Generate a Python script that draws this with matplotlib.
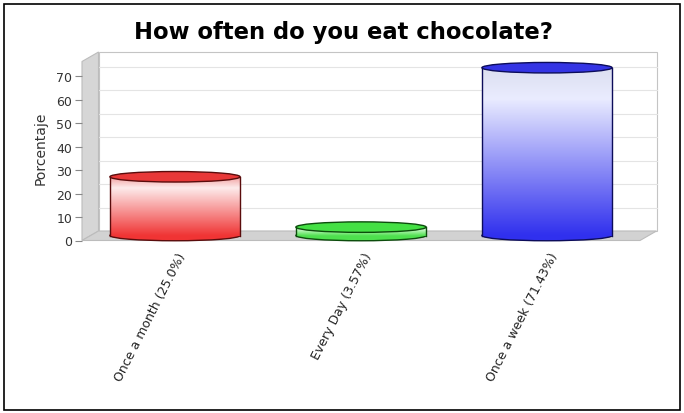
import numpy as np
import matplotlib.pyplot as plt
from matplotlib.patches import Ellipse, Polygon, Rectangle
from matplotlib.colors import LinearSegmentedColormap
import matplotlib.transforms as mtransforms

# chart data
categories = ['Once a month (25.0%)', 'Every Day (3.57%)', 'Once a week (71.43%)']
values = [25.0, 3.57, 71.43]
yticks = [0, 10, 20, 30, 40, 50, 60, 70]
title = 'How often do you eat chocolate?'
ylabel = 'Porcentaje'

# colours: body gradient (top, upper light band, bottom), cap, outline
body_colors = [
    ['#f2a4a4', '#fdebeb', '#f03434'],
    ['#a8f0a8', '#d8fcd8', '#4ee04e'],
    ['#dcdff0', '#eaecff', '#3030ee'],
]
cap_colors = ['#e83838', '#44e044', '#3434e4']
edge_colors = ['#5a0c0c', '#0c4c0c', '#0c0c5a']

W, H = 684, 414
fig = plt.figure(figsize=(W / 100, H / 100), dpi=100)
fig.patch.set_facecolor('white')

# front plane of the 3d plot, in pixels
left_px, right_px, top_px, bottom_px = 82, 640, 62.5, 241.5
ax = fig.add_axes([left_px / W, 1 - bottom_px / H,
                   (right_px - left_px) / W, (bottom_px - top_px) / H])
ax.patch.set_visible(False)
for s in ax.spines.values():
    s.set_visible(False)

ymax = 76.2
x0, x1 = -0.5, 2.5
sx = (right_px - left_px) / (x1 - x0)   # px per category unit
sy = (bottom_px - top_px) / ymax        # px per value unit

# 3d depth, pixels -> data units
dx = 16.5 / sx
dy = 9.5 / sy

# back wall
ax.add_patch(Rectangle((x0 + dx, dy), x1 - x0, ymax, facecolor='white',
                       edgecolor='#c4c4c4', lw=0.8, clip_on=False, zorder=0))
for t in yticks[1:]:
    ax.plot([x0 + dx, x1 + dx], [t + dy, t + dy], color='#e4e4e4', lw=0.8,
            clip_on=False, zorder=0.5)
# left wall
ax.add_patch(Polygon([(x0, 0), (x0 + dx, dy), (x0 + dx, ymax + dy), (x0, ymax)],
                     closed=True, facecolor='#d6d6d6', edgecolor='#bcbcbc',
                     lw=0.8, clip_on=False, zorder=0.6))
# floor
ax.add_patch(Polygon([(x0, 0), (x1, 0), (x1 + dx, dy), (x0 + dx, dy)],
                     closed=True, facecolor='#d2d2d2', edgecolor='#bcbcbc',
                     lw=0.8, clip_on=False, zorder=0.6))

# cylinders
bw = 0.70
eh = 10.5 / sy
lift = 5.0 / sy
for i, v in enumerate(values):
    cmap = LinearSegmentedColormap.from_list(
        'c%d' % i, [(0, body_colors[i][2]), (0.82, body_colors[i][1]),
                    (1, body_colors[i][0])])
    grad = cmap(np.linspace(0, 1, 200))[:, None, :3]
    ax.add_patch(Ellipse((i, lift), bw, eh, facecolor=body_colors[i][2],
                         edgecolor=edge_colors[i], lw=1.0, zorder=2,
                         clip_on=False))
    ax.imshow(grad, extent=(i - bw / 2, i + bw / 2, lift, v + lift),
              origin='lower', aspect='auto', zorder=3, interpolation='bilinear',
              clip_on=False)
    ax.plot([i - bw / 2, i - bw / 2], [lift, v + lift], color=edge_colors[i],
            lw=1.0, zorder=4, clip_on=False)
    ax.plot([i + bw / 2, i + bw / 2], [lift, v + lift], color=edge_colors[i],
            lw=1.0, zorder=4, clip_on=False)
    ax.add_patch(Ellipse((i, v + lift), bw, eh, facecolor=cap_colors[i],
                         edgecolor=edge_colors[i], lw=1.0, zorder=5,
                         clip_on=False))

ax.set_xlim(x0, x1)
ax.set_ylim(0, ymax)

ax.set_yticks(yticks)
ax.tick_params(axis='y', length=5, width=0.8, color='#888888', labelsize=9,
               labelcolor='#333333', pad=2)
ax.set_xticks(range(len(categories)))
ax.set_xticklabels(categories, rotation=63, ha='right', va='center',
                   rotation_mode='anchor', fontsize=9, color='#222222')
ax.tick_params(axis='x', length=0, pad=9)
shift = mtransforms.ScaledTranslation(8 / 100, 0, fig.dpi_scale_trans)
for lab in ax.get_xticklabels():
    lab.set_transform(lab.get_transform() + shift)

fig.text(343 / W, 1 - 33 / H, title, ha='center', va='center', fontsize=16.3,
         fontweight='bold', color='black')
fig.text(41 / W, 1 - 148 / H, ylabel, ha='center', va='center', rotation=90,
         fontsize=10, color='#333333')

# outer frame
fig.add_artist(Rectangle((4 / W, 1 - 411 / H), 676 / W, 406 / H,
                         transform=fig.transFigure, fill=False,
                         edgecolor='black', lw=1.2))

fig.savefig('out.png', dpi=100)
